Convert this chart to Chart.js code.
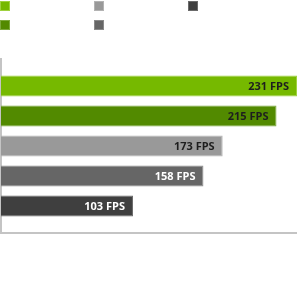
<!DOCTYPE html>
<html>
<head>
<meta charset="utf-8">
<script src="https://cdn.jsdelivr.net/npm/chart.js@4"></script>
<style>
    html, body { margin: 0; padding: 0; background: #fff; }
    #wrap { position: relative; width: 297px; height: 294px; }
    #legend {
        position: absolute; left: 0; top: 1px;
        display: grid; grid-template-columns: 94px 94px 94px;
        grid-template-rows: 19px 19px; grid-auto-flow: column;
    }
    .item { display: flex; align-items: flex-start; font: 11px "Open Sans", sans-serif; }
    .box { width: 10px; height: 10px; box-sizing: border-box; border: 1px solid; margin-right: 5px; }
    #chart { position: absolute; left: 0; top: 0; }
</style>
</head>
<body>
<div id="wrap">
    <div id="legend"></div>
    <canvas id="chart" width="297" height="294"></canvas>
</div>
<script>
    // Data
    const categories = [''];
    const seriesNames = ['', '', '', '', ''];
    const fpsValues = [231, 215, 173, 158, 103];
    const valueLabels = ['231 FPS', '215 FPS', '173 FPS', '158 FPS', '103 FPS'];

    const barColors = ['#76b900', '#528a00', '#999999', '#666666', '#3f3f3f'];
    const edgeColors = ['#9fd13f', '#7aa83a', '#b3b3b3', '#8a8a8a', '#6a6a6a'];
    const textColors = ['#1e1e1e', '#1e1e1e', '#1e1e1e', '#ffffff', '#ffffff'];

    const datasets = fpsValues.map((v, i) => ({
        label: seriesNames[i],
        data: [v],
        backgroundColor: barColors[i],
        borderColor: edgeColors[i],
        borderWidth: 1,
        borderSkipped: 'start',
        categoryPercentage: 0.862,
        barPercentage: 0.7
    }));

    // HTML legend
    const legendEl = document.getElementById('legend');
    datasets.forEach(ds => {
        const item = document.createElement('div');
        item.className = 'item';
        const box = document.createElement('span');
        box.className = 'box';
        box.style.background = ds.backgroundColor;
        box.style.borderColor = ds.borderColor;
        const txt = document.createElement('span');
        txt.textContent = ds.label;
        item.appendChild(box);
        item.appendChild(txt);
        legendEl.appendChild(item);
    });

    // value labels at the end of each bar
    const valueLabelPlugin = {
        id: 'valueLabels',
        afterDatasetsDraw(chart) {
            const ctx = chart.ctx;
            ctx.save();
            ctx.font = 'bold 11px "Open Sans", sans-serif';
            ctx.textAlign = 'right';
            ctx.textBaseline = 'middle';
            chart.data.datasets.forEach((ds, i) => {
                const bar = chart.getDatasetMeta(i).data[0];
                ctx.fillStyle = textColors[i];
                ctx.fillText(valueLabels[i], bar.x - 8, bar.y + 1);
            });
            ctx.restore();
        }
    };

    new Chart(document.getElementById('chart').getContext('2d'), {
        type: 'bar',
        data: { labels: categories, datasets: datasets },
        options: {
            indexAxis: 'y',
            responsive: false,
            animation: false,
            layout: { padding: { top: 59, left: 1, right: 0, bottom: 61 } },
            plugins: {
                legend: { display: false },
                tooltip: { enabled: false }
            },
            scales: {
                x: {
                    min: 0,
                    max: 231,
                    grid: { display: false, drawTicks: false },
                    ticks: { display: false },
                    border: { display: true, color: '#c4c4c4', width: 2 }
                },
                y: {
                    grid: { display: false, drawTicks: false },
                    ticks: { display: false },
                    border: { display: true, color: '#c4c4c4', width: 2 }
                }
            }
        },
        plugins: [valueLabelPlugin]
    });
</script>
</body>
</html>
